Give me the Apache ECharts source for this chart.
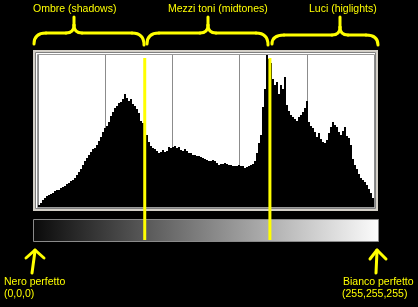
<!DOCTYPE html>
<html><head><meta charset="utf-8">
<script src="https://cdn.jsdelivr.net/npm/echarts@6/dist/echarts.min.js"></script>
<style>html,body{margin:0;padding:0;background:#000;}#c{width:418px;height:307px;}</style>
</head><body><div id="c"></div>
<script>
// Histogram counts (relative heights) for 168 tonal bins from black (0) to white (255)
const counts = [2,4,7,9,11,12,13,14,16,17,17,19,20,21,23,24,26,27,29,32,
35,38,42,46,49,52,55,58,59,62,66,70,75,79,81,85,91,95,99,101,
104,105,108,113,109,106,108,103,101,98,94,86,84,78,72,65,61,59,58,56,
54,55,57,55,56,60,59,60,61,59,60,57,56,58,56,54,54,52,52,51,
51,50,49,48,47,46,46,47,46,44,42,43,43,44,43,42,42,41,41,41,
42,41,41,39,40,41,42,43,46,54,64,72,100,118,152,148,144,128,122,125,
113,122,118,130,102,96,92,90,88,86,90,92,95,99,106,85,81,79,75,70,
74,68,65,64,67,74,80,85,82,80,75,72,76,80,71,69,62,48,42,38,
33,29,27,25,22,18,14,9];
const bins = counts.map((_, i) => String(i));
// tonal zones
const zoneLabels = ['Ombre (shadows)', 'Mezzi toni (midtones)', 'Luci (higlights)'];
const zoneBoundaries = [81, 176];          // level values of the yellow separators
const levelMin = 0, levelMax = 255, levelStep = 51;
const endLabels = [['Nero perfetto', '(0,0,0)'], ['Bianco perfetto', '(255,255,255)']];

const chart = echarts.init(document.getElementById('c'), null, {renderer: 'canvas'});
const Y = '#ffff00';
const font = '10.5px "Liberation Sans", Arial, sans-serif';

chart.setOption({
  backgroundColor: '#000',
  animation: false,
  grid: {left: 38, right: 44, top: 55, bottom: 100, show: false},
  xAxis: [
    {type: 'category', data: bins, show: false, boundaryGap: true},
    {type: 'value', min: levelMin, max: levelMax, interval: levelStep, position: 'top',
     axisLine: {show: false}, axisTick: {show: false}, axisLabel: {show: false},
     splitLine: {show: true, lineStyle: {color: '#8c8c8c', width: 1}}}
  ],
  yAxis: {type: 'value', min: 0, max: 152, show: false},
  series: [{
    type: 'bar', data: counts, xAxisIndex: 0, barCategoryGap: '0%', barGap: '0%',
    itemStyle: {color: '#000'}, silent: true
  }]
});

function draw() {
  const els = [];
  const ys = {stroke: Y, lineWidth: 3, fill: null, lineCap: 'round', lineJoin: 'round'};
  const line = (x1, y1, x2, y2) => els.push({type: 'line', z: 50, shape: {x1, y1, x2, y2}, style: ys});
  const quad = (x1, y1, cx, cy, x2, y2) => els.push({type: 'bezierCurve', z: 50, shape: {x1, y1, cpx1: cx, cpy1: cy, x2, y2}, style: ys});
  // histogram window frame
  els.push({type: 'rect', z: -20, shape: {x: 33, y: 50, width: 345, height: 161}, style: {fill: '#d4d0c8'}});
  els.push({type: 'rect', z: -19, shape: {x: 35.5, y: 52.5, width: 340, height: 156}, style: {fill: '#fff', stroke: '#808080', lineWidth: 1}});
  els.push({type: 'rect', z: -18, shape: {x: 37.5, y: 54.5, width: 337, height: 153}, style: {fill: '#fff', stroke: '#9a9a9a', lineWidth: 1}});
  // gradient bar
  els.push({type: 'rect', z: 5, shape: {x: 33.5, y: 219.5, width: 345, height: 22},
    style: {stroke: '#8a8a8a', lineWidth: 1,
      fill: {type: 'linear', x: 0, y: 0, x2: 1, y2: 0, colorStops: [{offset: 0, color: '#0a0a0a'}, {offset: 1, color: '#fcfcfc'}]}}});
  // yellow separators
  zoneBoundaries.forEach(v => {
    const x = chart.convertToPixel({xAxisIndex: 1}, v);
    els.push({type: 'line', z: 50, shape: {x1: x, y1: 58, x2: x, y2: 240}, style: {stroke: Y, lineWidth: 3}});
  });
  // braces
  const braces = [[34, 74, 144, 33], [147, 208, 268, 33], [272, 340, 378, 35]];
  braces.forEach(([a, t, b, h]) => {
    quad(a, 44, a, h, a + 12, h);
    line(a + 12, h, t - 8, h);
    quad(t - 8, h, t, h, t, h - 8);
    line(t, h - 8, t, 17);
    quad(t, h - 8, t, h, t + 8, h);
    line(t + 8, h, b - 12, h);
    quad(b - 12, h, b, h, b, 45);
  });
  // zone labels
  const labelX = [33, 168, 309];
  zoneLabels.forEach((t, i) => {
    els.push({type: 'text', z: 50, x: labelX[i], y: 9, style: {text: t, fill: Y, font: font, verticalAlign: 'middle'}});
  });
  // arrows
  line(32, 273, 35, 251); line(26, 258, 35, 250); line(35, 250, 44, 258);
  line(376, 273, 377, 251); line(370, 259, 377, 250); line(377, 250, 386, 259);
  // end labels
  els.push({type: 'text', z: 50, x: 4, y: 282, style: {text: endLabels[0][0], fill: Y, font: font, verticalAlign: 'middle'}});
  els.push({type: 'text', z: 50, x: 4, y: 294, style: {text: endLabels[0][1], fill: Y, font: font, verticalAlign: 'middle'}});
  els.push({type: 'text', z: 50, x: 343, y: 282, style: {text: endLabels[1][0], fill: Y, font: font, verticalAlign: 'middle'}});
  els.push({type: 'text', z: 50, x: 342, y: 294, style: {text: endLabels[1][1], fill: Y, font: font, verticalAlign: 'middle'}});
  chart.setOption({graphic: {elements: els}});
}
draw();
</script>
</body></html>
